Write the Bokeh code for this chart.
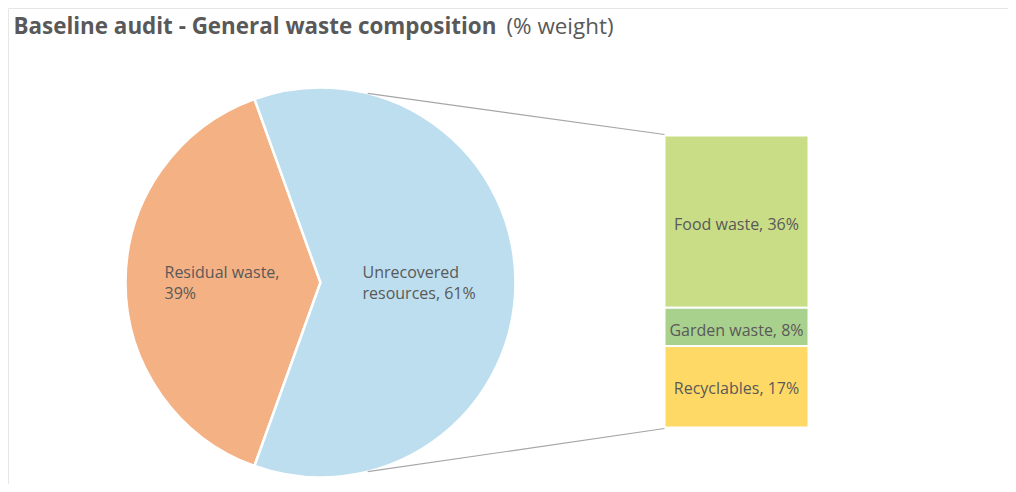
import math
from bokeh.plotting import figure
from bokeh.models import Range1d
from bokeh.core.properties import value
from bokeh.embed import file_html
from bokeh.resources import INLINE

# ---- data ----
pie_categories = ["Residual waste", "Unrecovered resources"]
pie_values = [39, 61]
pie_colors = ["#F4B183", "#BDDEEE"]

bar_categories = ["Food waste", "Garden waste", "Recyclables"]
bar_values = [36, 8, 17]
bar_colors = ["#C9DD87", "#A9D18E", "#FFD966"]

title_main = "Baseline audit - General waste composition"
title_unit = "(% weight)"

FONT = "Open Sans"
TXT = "#595959"

W, H = 1008, 484
p = figure(width=W, height=H, output_backend="svg", toolbar_location=None,
           x_range=Range1d(0, W), y_range=Range1d(0, H), min_border=0,
           outline_line_color=None)
p.axis.visible = False
p.grid.visible = False

# faint chart frame (top and left edges visible)
p.segment(x0=[8, 8], y0=[H - 8, H - 8], x1=[W, 8], y1=[H - 8, 0],
          line_color="#E6E6E6", line_width=1)

# ---- pie (primary) ----
cx, cy, r = 320, 202, 195
total = sum(pie_values)
res_span = 2 * math.pi * pie_values[0] / total
start0 = math.pi - res_span / 2
starts = [start0, start0 + res_span]
ends = [start0 + res_span, start0 + 2 * math.pi]
p.wedge(x=[cx, cx], y=[cy, cy], radius=r, start_angle=starts, end_angle=ends,
        fill_color=pie_colors, line_color="white", line_width=2.5)

# ---- stacked bar (secondary) ----
bx0, bx1 = 664, 808
btop, bbot = 349, 57
scale = (btop - bbot) / sum(bar_values)
tops, bots = [], []
cur = btop
for v in bar_values:
    tops.append(cur)
    cur -= v * scale
    bots.append(cur)
p.quad(left=bx0, right=bx1, top=tops, bottom=bots, fill_color=bar_colors,
       line_color="white", line_width=2)

# ---- connector lines ----
ang = math.radians(76)
p.segment(x0=[cx + r * math.cos(ang), cx + r * math.cos(-ang)],
          y0=[cy + r * math.sin(ang), cy + r * math.sin(-ang)],
          x1=[bx0, bx0], y1=[btop + 1, bbot - 1],
          line_color="#A6A6A6", line_width=1.2)

# ---- labels ----
LFS = "16px"
p.text(x=[164, 164], y=[213, 192],
       text=[pie_categories[0] + ",", f"{pie_values[0]}%"],
       text_font=value(FONT), text_font_size=LFS, text_color=TXT,
       text_baseline="alphabetic", text_align="left")
p.text(x=[362, 362], y=[213, 192],
       text=["Unrecovered", f"resources, {pie_values[1]}%"],
       text_font=value(FONT), text_font_size=LFS, text_color=TXT,
       text_baseline="alphabetic", text_align="left")

bmid = (bx0 + bx1) / 2
lab_y = [261, 155, 97]
p.text(x=[bmid] * 3, y=lab_y,
       text=[f"{c}, {v}%" for c, v in zip(bar_categories, bar_values)],
       text_font=value(FONT), text_font_size=LFS, text_color=TXT,
       text_baseline="alphabetic", text_align="center")

# ---- title ----
p.text(x=[13], y=[459], text=[title_main], text_font=value(FONT),
       text_font_size="22.4px", text_font_style="bold", text_color=TXT,
       text_baseline="alphabetic")
p.text(x=[506], y=[459], text=[title_unit], text_font=value(FONT),
       text_font_size="22.4px", text_color=TXT, text_baseline="alphabetic")

open("out.html", "w").write(file_html(p, INLINE))
